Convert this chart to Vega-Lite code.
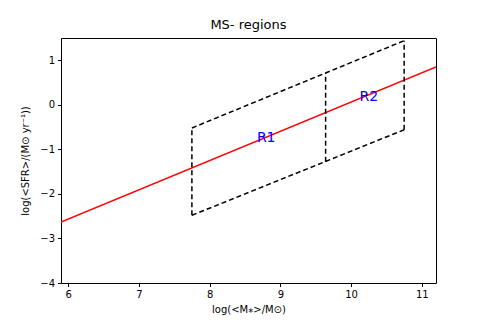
{
  "$schema": "https://vega.github.io/schema/vega-lite/v6.json",
  "width": 375,
  "height": 245,
  "autosize": "none",
  "padding": {"left": 61, "top": 38, "right": 49, "bottom": 40},
  "background": "white",
  "config": {
    "font": "DejaVu Sans",
    "view": {"stroke": "black", "strokeWidth": 1},
    "axis": {
      "grid": false,
      "domain": false,
      "tickColor": "black",
      "tickSize": 3.5,
      "labelColor": "black",
      "labelFont": "DejaVu Sans",
      "labelFontSize": 10,
      "labelPadding": 3,
      "titleFont": "DejaVu Sans",
      "titleFontSize": 10,
      "titleFontWeight": "normal",
      "titleColor": "black"
    }
  },
  "title": {"text": "MS- regions", "font": "DejaVu Sans", "fontSize": 13, "fontWeight": "normal", "offset": 6, "color": "black"},
  "datasets": {
    "ms": [{"m": 5.9, "sfr": -2.63}, {"m": 11.2, "sfr": 0.85}],
    "box": [
      {"x": 7.75, "y": -0.52, "x2": 10.75, "y2": 1.44},
      {"x": 7.75, "y": -2.48, "x2": 10.75, "y2": -0.56},
      {"x": 7.75, "y": -2.48, "x2": 7.75, "y2": -0.52},
      {"x": 9.64, "y": -1.28, "x2": 9.64, "y2": 0.71},
      {"x": 10.75, "y": -0.56, "x2": 10.75, "y2": 1.44}
    ],
    "labels": [{"x": 8.8, "y": -0.75, "t": "R1"}, {"x": 10.25, "y": 0.18, "t": "R2"}]
  },
  "layer": [
    {
      "data": {"name": "ms"},
      "mark": {"type": "line", "color": "red", "strokeWidth": 1.5, "clip": true},
      "encoding": {
        "x": {"field": "m", "type": "quantitative", "scale": {"domain": [5.9, 11.2], "nice": false, "zero": false}, "axis": {"values": [6, 7, 8, 9, 10, 11], "format": "d", "title": "log(<M⁎>/M⊙)", "titlePadding": 5}},
        "y": {"field": "sfr", "type": "quantitative", "scale": {"domain": [-4, 1.5], "nice": false, "zero": false}, "axis": {"values": [-4, -3, -2, -1, 0, 1], "format": "d", "title": "log(<SFR>/(M⊙ yr⁻¹))", "titlePadding": 9}}
      }
    },
    {
      "data": {"name": "box"},
      "mark": {"type": "rule", "color": "black", "strokeWidth": 1.5, "strokeDash": [5, 3]},
      "encoding": {
        "x": {"field": "x", "type": "quantitative"},
        "y": {"field": "y", "type": "quantitative"},
        "x2": {"field": "x2"},
        "y2": {"field": "y2"}
      }
    },
    {
      "data": {"name": "labels"},
      "mark": {"type": "text", "color": "blue", "fontSize": 14, "font": "DejaVu Sans"},
      "encoding": {
        "x": {"field": "x", "type": "quantitative"},
        "y": {"field": "y", "type": "quantitative"},
        "text": {"field": "t"}
      }
    }
  ]
}
